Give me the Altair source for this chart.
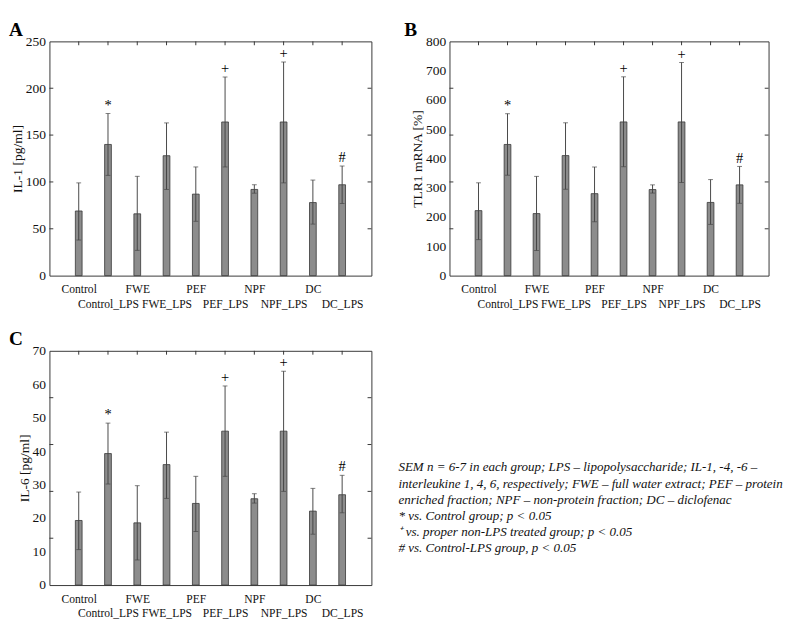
import altair as alt
import pandas as pd

SERIF = "Liberation Serif"

CATS = ["Control", "Control_LPS", "FWE", "FWE_LPS", "PEF", "PEF_LPS",
        "NPF", "NPF_LPS", "DC", "DC_LPS"]
MARKS = ["", "*", "", "", "", "+", "", "+", "", "#"]

IL1_MEAN = [69, 140, 66, 128, 87, 164, 92, 164, 78, 97]
IL1_LOW = [38, 107, 27, 92, 58, 116, 88, 99, 55, 77]
IL1_HIGH = [99, 173, 106, 163, 116, 212, 97, 228, 102, 117]
IL1_LABELS = [0, 50, 100, 150, 200, 250]
IL1_TICKS = [50, 100, 150, 200]

TLR1_MEAN = [222, 448, 212, 410, 280, 525, 294, 525, 250, 310]
TLR1_LOW = [123, 343, 86, 295, 184, 372, 282, 318, 175, 247]
TLR1_HIGH = [317, 553, 339, 522, 371, 679, 310, 728, 328, 373]
TLR1_LABELS = [0, 100, 200, 300, 400, 500, 600, 700, 800]
TLR1_TICKS = [160, 320, 480, 640]

IL6_MEAN = [19.3, 39.3, 18.6, 36.0, 24.4, 46.0, 25.8, 46.0, 22.1, 27.0]
IL6_LOW = [10.6, 30.2, 7.5, 25.9, 16.0, 32.5, 24.5, 28.0, 15.2, 21.6]
IL6_HIGH = [27.8, 48.4, 29.7, 45.7, 32.5, 59.5, 27.3, 63.9, 28.9, 32.8]
IL6_LABELS = [0, 10, 20, 30, 40, 50, 60, 70]
IL6_TICKS = [14, 28, 42, 56]

NOTE_LINES = [
    "SEM n = 6-7 in each group; LPS \u2013 lipopolysaccharide; IL-1, -4, -6 \u2013",
    "interleukine 1, 4, 6, respectively; FWE \u2013 full water extract; PEF \u2013 protein",
    "enriched fraction; NPF \u2013 non-protein fraction; DC \u2013 diclofenac",
    "* vs. Control group; p < 0.05",
    "\u207a vs. proper non-LPS treated group; p < 0.05",
    "# vs. Control-LPS group, p < 0.05",
]

H = 243


def panel(letter, mean, low, high, ytitle, ymax, ylabels, yticks, width,
          letter_x, letter_y):
    df = pd.DataFrame({"cat": CATS, "mean": mean, "low": low,
                       "high": high, "mark": MARKS})
    base = alt.Chart(df)
    xscale = alt.Scale(type="point", padding=1)
    yscale = alt.Scale(domain=[0, ymax], nice=False, zero=True)
    xaxis = alt.Axis(
        labelExpr="indexof(datum.label, '_LPS') >= 0 ? ['', datum.label] : datum.label",
        labelAngle=0, labelFontSize=12, labelPadding=9,
        labelLineHeight=15, labelOverlap=False, labelBaseline="top")
    yaxis = alt.Axis(values=ylabels, labelFontSize=14, labelPadding=4,
                     labelOverlap=False, titleFontSize=14, titlePadding=1)

    def X():
        return alt.X("cat:N", sort=CATS, scale=xscale, axis=xaxis, title=None)

    def Y(field):
        return alt.Y(field, scale=yscale, axis=yaxis, title=ytitle)

    bars = base.mark_bar(size=7, color="#8c8c8c", stroke="#333",
                         strokeWidth=0.8).encode(x=X(), y=Y("mean:Q"))
    err = base.mark_rule(color="#444", strokeWidth=1).encode(
        x=X(), y=Y("low:Q"), y2="high:Q")
    cap_lo = base.mark_tick(size=5, thickness=1, color="#444").encode(
        x=X(), y=Y("low:Q"))
    cap_hi = base.mark_tick(size=5, thickness=1, color="#444").encode(
        x=X(), y=Y("high:Q"))
    sig = base.mark_text(font=SERIF, fontSize=15, baseline="middle", dy=-9,
                         color="#000").encode(
        x=X(), y=Y("high:Q"), text="mark:N")
    top_ticks = base.mark_rule(color="#333").encode(
        x=X(), y=alt.value(0), y2=alt.value(4))

    tdf = pd.DataFrame({"t": yticks})
    left_ticks = alt.Chart(tdf).mark_rule(color="#333").encode(
        y=Y("t:Q"), x=alt.value(0), x2=alt.value(4))
    right_ticks = alt.Chart(tdf).mark_rule(color="#333").encode(
        y=Y("t:Q"), x=alt.value(width - 4), x2=alt.value(width))

    ldf = pd.DataFrame({"letter": [letter]})
    letter_mark = alt.Chart(ldf).mark_text(
        font=SERIF, fontSize=20, fontWeight="bold", align="left",
        baseline="top", color="#000").encode(
        x=alt.value(letter_x), y=alt.value(letter_y), text="letter:N")

    return alt.layer(bars, err, cap_lo, cap_hi, sig, top_ticks, left_ticks,
                     right_ticks, letter_mark).properties(width=width, height=H)


pa = panel("A", IL1_MEAN, IL1_LOW, IL1_HIGH, "IL-1 [pg/ml]", 250,
           IL1_LABELS, IL1_TICKS, 334, -42, -22)
pb = panel("B", TLR1_MEAN, TLR1_LOW, TLR1_HIGH, "TLR1 mRNA [%]", 800,
           TLR1_LABELS, TLR1_TICKS, 331, -47, -22)
pc = panel("C", IL6_MEAN, IL6_LOW, IL6_HIGH, "IL-6 [pg/ml]", 70,
           IL6_LABELS, IL6_TICKS, 334, -42, -22)

ndf = pd.DataFrame({"idx": list(range(len(NOTE_LINES))), "text": NOTE_LINES})
notes = alt.Chart(ndf).mark_text(
    align="left", baseline="middle", font=SERIF, fontStyle="italic",
    fontSize=13.5, color="#111").encode(
    x=alt.value(0),
    y=alt.Y("idx:Q", scale=alt.Scale(domain=[-7.2, 7.26], reverse=True,
                                      nice=False, zero=False), axis=None),
    text="text:N").properties(width=370, height=H,
                              view=alt.ViewBackground(stroke="transparent"))

top = alt.HConcatChart(hconcat=[pa, pb], spacing=32)
bottom = alt.HConcatChart(hconcat=[pc, notes], spacing=26)
chart = alt.ConcatChart(concat=[top, bottom], columns=1, spacing=19,
                        align="none", padding=0)
chart = chart.configure(background="white").configure_view(
    stroke="#333", strokeWidth=1).configure_axis(
    grid=False, ticks=False, domain=False, labelFont=SERIF, titleFont=SERIF,
    labelColor="#111", titleColor="#111", titleFontWeight="normal")

chart.save("out.html", embed_options={"renderer": "svg", "actions": False})
